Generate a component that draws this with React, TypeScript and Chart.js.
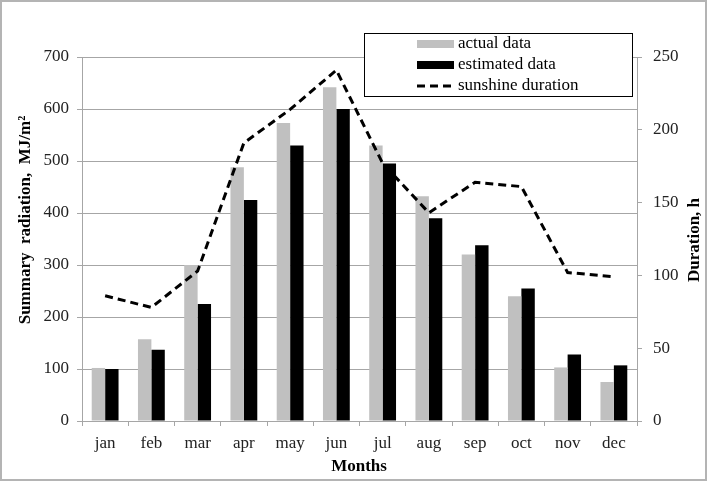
import React, { useEffect, useRef } from "react";
import { Chart, registerables } from "chart.js";

Chart.register(...registerables);

const months = ["jan", "feb", "mar", "apr", "may", "jun", "jul", "aug", "sep", "oct", "nov", "dec"];
const actualData = [102, 157, 300, 488, 573, 642, 530, 432, 320, 240, 103, 75];
const estimatedData = [100, 137, 225, 425, 530, 600, 495, 390, 338, 255, 128, 107];
const sunshineDuration = [86, 78, 103, 191, 214, 241, 177, 143, 164, 161, 102, 99];
const leftTicks = [0, 100, 200, 300, 400, 500, 600, 700];
const rightTicks = [0, 50, 100, 150, 200, 250];

const FONT = "'Liberation Serif', 'Times New Roman', serif";
const GRID = "#a6a6a6";

const decorPlugin = {
  id: "decor",
  afterDraw(chart: any) {
    const ctx = chart.ctx as CanvasRenderingContext2D;
    ctx.save();
    // axis titles
    ctx.fillStyle = "#000";
    ctx.font = `bold 17px ${FONT}`;
    ctx.textAlign = "center";
    ctx.textBaseline = "middle";
    ctx.save();
    ctx.translate(26, 220);
    ctx.rotate(-Math.PI / 2);
    ctx.fillText("Summary  radiation,  MJ/m²", 0, 0);
    ctx.restore();
    ctx.save();
    ctx.translate(695, 240);
    ctx.rotate(-Math.PI / 2);
    ctx.fillText("Duration, h", 0, 0);
    ctx.restore();
    ctx.fillText("Months", 359, 467);

    // legend
    const bx = 364, by = 33, bw = 268, bh = 63;
    ctx.fillStyle = "#fff";
    ctx.fillRect(bx, by, bw, bh);
    ctx.strokeStyle = "#000";
    ctx.lineWidth = 1;
    ctx.strokeRect(bx + 0.5, by + 0.5, bw, bh);
    const sx = 417, sw = 37, tx = 458;
    const rows = [44, 65, 86];
    ctx.fillStyle = "#c0c0c0";
    ctx.fillRect(sx, rows[0] - 4, sw, 8);
    ctx.fillStyle = "#000";
    ctx.fillRect(sx, rows[1] - 4, sw, 8);
    ctx.setLineDash([8, 5]);
    ctx.lineWidth = 3;
    ctx.beginPath();
    ctx.moveTo(sx, rows[2]);
    ctx.lineTo(sx + sw, rows[2]);
    ctx.stroke();
    ctx.setLineDash([]);
    ctx.font = `17px ${FONT}`;
    ctx.textAlign = "left";
    ctx.fillStyle = "#000";
    const labels = ["actual data", "estimated data", "sunshine duration"];
    labels.forEach((l, i) => ctx.fillText(l, tx, rows[i]));
    ctx.restore();
  },
};

export default function App() {
  const ref = useRef<HTMLCanvasElement>(null);
  useEffect(() => {
    if (!ref.current) return;
    const chart = new Chart(ref.current, {
      type: "bar",
      data: {
        labels: months,
        datasets: [
          {
            type: "line",
            label: "sunshine duration",
            data: sunshineDuration,
            yAxisID: "y2",
            borderColor: "#000",
            borderWidth: 3,
            borderDash: [8, 5],
            pointRadius: 0,
            tension: 0,
            fill: false,
            order: 0,
          } as any,
          {
            label: "actual data",
            data: actualData,
            backgroundColor: "#c0c0c0",
            yAxisID: "y",
            barPercentage: 1,
            categoryPercentage: 0.58,
            order: 1,
          },
          {
            label: "estimated data",
            data: estimatedData,
            backgroundColor: "#000",
            yAxisID: "y",
            barPercentage: 1,
            categoryPercentage: 0.58,
            order: 1,
          },
        ],
      },
      options: {
        animation: false,
        responsive: false,
        maintainAspectRatio: false,
        layout: { padding: { top: 57, left: 0, right: 0, bottom: 0 } },
        plugins: { legend: { display: false }, tooltip: { enabled: false } },
        scales: {
          x: {
            offset: true,
            grid: {
              offset: true,
              drawOnChartArea: false,
              drawTicks: true,
              tickLength: 5,
              color: GRID,
            },
            border: { display: true, color: GRID },
            ticks: { color: "#222", font: { family: FONT, size: 17 }, padding: 7 },
            afterFit: (s: any) => {
              s.height = 61;
            },
          },
          y: {
            position: "left",
            min: 0,
            max: 700,
            afterBuildTicks: (s: any) => {
              s.ticks = leftTicks.map((v) => ({ value: v }));
            },
            grid: { color: GRID, tickLength: 5 },
            border: { display: true, color: GRID },
            ticks: { color: "#222", font: { family: FONT, size: 17 }, padding: 8 },
            afterFit: (s: any) => {
              s.width = 82;
            },
          },
          y2: {
            position: "right",
            min: 0,
            max: 250,
            afterBuildTicks: (s: any) => {
              s.ticks = rightTicks.map((v) => ({ value: v }));
            },
            grid: { drawOnChartArea: false, color: GRID, tickLength: 5 },
            border: { display: true, color: GRID },
            ticks: { color: "#222", font: { family: FONT, size: 17 }, padding: 11 },
            afterFit: (s: any) => {
              s.width = 72;
            },
          },
        },
      },
      plugins: [decorPlugin],
    });
    return () => chart.destroy();
  }, []);

  return (
    <div
      style={{
        position: "fixed",
        left: 0,
        top: 0,
        width: 709,
        height: 482,
        background: "#fff",
      }}
    >
      <canvas ref={ref} width={709} height={482} style={{ position: "absolute", left: 0, top: 0 }} />
      <div
        style={{
          position: "absolute",
          left: 0,
          top: 0,
          width: 703,
          height: 477,
          border: "2px solid #b4b4b4",
          pointerEvents: "none",
        }}
      />
    </div>
  );
}
